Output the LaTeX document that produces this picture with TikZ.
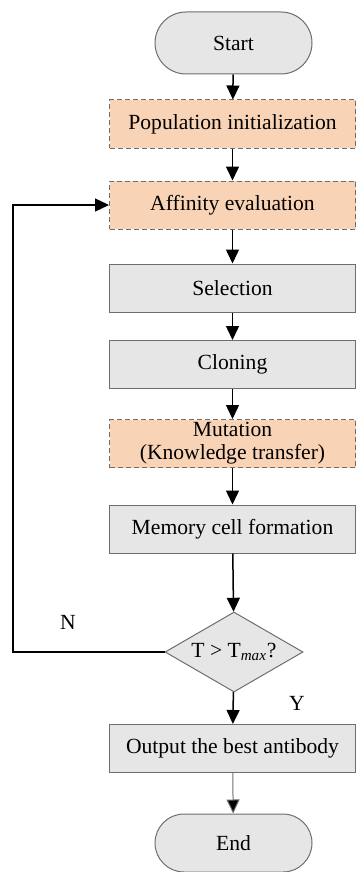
\documentclass[tikz,border=0pt]{standalone}
\usepackage{fontspec}
\setmainfont{Liberation Serif}
\newfontfamily\labelfont{Liberation Serif}
\usetikzlibrary{arrows.meta,shapes.geometric}

\definecolor{peach}{RGB}{249,211,181}
\definecolor{boxgray}{RGB}{230,230,230}
\definecolor{edgegray}{RGB}{110,110,110}

\tikzset{
  txt/.style={font=\labelfont\fontsize{10.8}{11.6}\selectfont, text=black, align=center},
  procbox/.style={txt, rectangle, draw=edgegray, line width=0.5pt, fill=boxgray,
                  minimum width=123pt, minimum height=24pt, inner sep=0pt},
  kbox/.style={procbox, fill=peach, dashed, dash pattern=on 2.5pt off 1.5pt},
  terminal/.style={txt, rectangle, rounded corners=15.5pt, draw=edgegray, line width=0.5pt,
                   fill=boxgray, minimum width=78.5pt, minimum height=31pt, inner sep=0pt},
  decision/.style={txt, diamond, aspect=1.725, draw=edgegray, line width=0.5pt,
                   fill=boxgray, minimum width=69pt, minimum height=40pt, inner sep=0pt},
  flow/.style={draw=black, line width=0.75pt, -{Triangle[width=6.5pt,length=7pt]}},
  thinflow/.style={draw=edgegray, line width=0.5pt, -{Triangle[width=6.5pt,length=7pt,fill=black]}},
  lbl/.style={txt}
}

\begin{document}
\begin{tikzpicture}[x=0.5pt,y=-0.5pt]
  \useasboundingbox (0,0) rectangle (356,872);

  % main column
  \node[terminal] (start) at (233.5,43) {Start};
  \node[kbox]     (init)  at (232.5,124) {Population initialization};
  \node[kbox]     (aff)   at (232.5,205) {Affinity evaluation};
  \node[procbox]  (sel)   at (232.5,288) {Selection};
  \node[procbox]  (clone) at (232.5,364.5) {Cloning};
  \node[kbox]     (mut)   at (232.5,443.5) {Mutation\\(Knowledge transfer)};
  \node[procbox]  (mem)   at (232.5,529) {Memory cell formation};
  \node[decision] (dec)   at (234,652) {T > T\textsubscript{\itshape max}?};
  \node[procbox]  (out)   at (232.5,748.5) {Output the best antibody};
  \node[terminal, minimum height=29pt, rounded corners=14.5pt] (end) at (233.5,843) {End};

  % forward arrows
  \draw[flow] (start) -- (init);
  \draw[flow] (init) -- (aff);
  \draw[flow] (aff) -- (sel);
  \draw[flow] (sel) -- (clone);
  \draw[flow] (clone) -- (mut);
  \draw[flow] (mut) -- (mem);
  \draw[flow] (mem) -- (dec);
  \draw[flow] (dec) -- (out);
  \draw[thinflow] (out) -- (end);

  % loop back when the limit is not reached
  \coordinate (back) at (13,652);
  \draw[flow, line width=0.7pt] (dec.west) -- (back) |- (aff.west);

  % branch labels
  \node[lbl] (nlab) at (68,622) {N};
  \node[lbl] (ylab) at (297,703) {Y};
\end{tikzpicture}
\end{document}
